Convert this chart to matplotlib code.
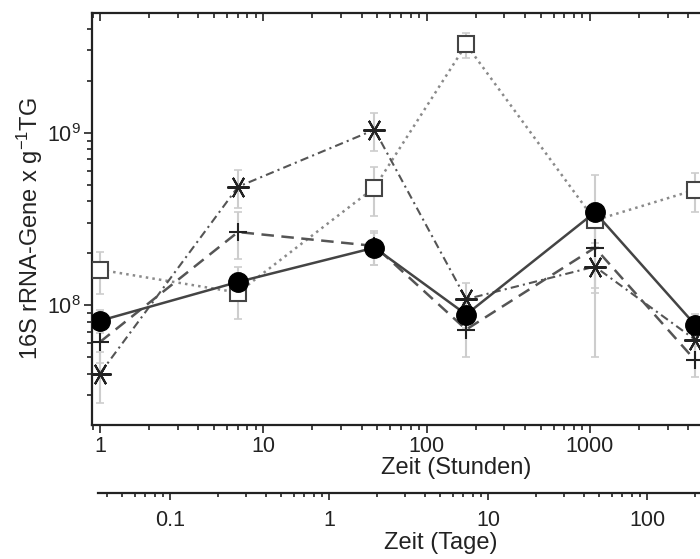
import numpy as np
import matplotlib
matplotlib.use('Agg')
import matplotlib.pyplot as plt
from matplotlib import ticker

plt.rcParams['font.family'] = ['Liberation Sans', 'DejaVu Sans']
plt.rcParams['mathtext.fontset'] = 'custom'
plt.rcParams['mathtext.rm'] = 'Liberation Sans'
plt.rcParams['mathtext.it'] = 'Liberation Sans:italic'
plt.rcParams['mathtext.bf'] = 'Liberation Sans:bold'
plt.rcParams['mathtext.default'] = 'regular'

# Messzeitpunkte (Stunden)
stunden = [1, 7, 48, 175, 1075, 4400]

# 16S rRNA-Gene pro g TG, vier Serien
kreis = [8.1e7, 1.36e8, 2.15e8, 8.8e7, 3.45e8, 7.7e7]
kreis_err = [1.2e7, 3.0e7, 4.5e7, 1.5e7, 2.2e8, 1.2e7]

quadrat = [1.6e8, 1.18e8, 4.8e8, 3.25e9, 3.1e8, 4.65e8]
quadrat_err = [4.4e7, 3.5e7, 1.5e8, 5.5e8, 8e7, 1.2e8]

stern = [4.0e7, 4.85e8, 1.04e9, 1.08e8, 1.67e8, 6.3e7]
stern_err = [1.3e7, 1.2e8, 2.6e8, 2.6e7, 5e7, 1.5e7]

plus = [6.1e7, 2.65e8, 2.2e8, 7.2e7, 2.15e8, 4.8e7]
plus_err = [1.5e7, 8e7, 5e7, 2.2e7, 1.65e8, 1.0e7]

W, H = 700, 559
def fx(px):
    return px / W
def fy(py):
    return 1 - py / H

txt = '#222222'
fig = plt.figure(figsize=(7, 5.59), dpi=100)

# main axes runs past the right edge (picture is cropped)
ax = fig.add_axes([fx(92), fy(425), fx(818) - fx(92), fy(13) - fy(425)])

for vals, err in [(quadrat, quadrat_err), (stern, stern_err),
                  (plus, plus_err), (kreis, kreis_err)]:
    ax.errorbar(stunden, vals, yerr=err, fmt='none', ecolor='#cdcdcd',
                elinewidth=1.5, capsize=3, capthick=1.2, zorder=1)

ax.plot(stunden, quadrat, ls=':', color='#8a8a8a', lw=1.8, marker='s', ms=11,
        mfc='white', mec='#444444', mew=1.5, zorder=3)
ax.plot(stunden, stern, color='#555555', lw=1.5, dashes=(4, 2, 1, 2),
        marker=(6, 2, 90), ms=16, mec='#222222', mew=1.5, zorder=4)
ax.plot(stunden, plus, color='#555555', lw=1.8, dashes=(5, 3), marker='+',
        ms=13, mec='#222222', mew=1.5, zorder=5)
ax.plot(stunden, kreis, color='#444444', lw=1.8, marker='o', ms=14,
        mfc='black', mec='black', zorder=6)


def label_bis(limit):
    # labels beyond the cropped right edge stay empty
    return ticker.FuncFormatter(lambda v, p: f'{v:g}' if v <= limit else '')


ax.set_xscale('log')
ax.set_yscale('log')
ax.set_xlim(0.893, 2.5e4)
ax.set_ylim(2.01e7, 4.95e9)
ax.xaxis.set_major_formatter(label_bis(2000))
ax.xaxis.set_minor_formatter(ticker.NullFormatter())
ax.yaxis.set_minor_formatter(ticker.NullFormatter())
ax.tick_params(which='both', direction='out', top=False, right=False,
               labelsize=15.5, colors=txt, width=1.2, pad=2)
ax.tick_params(which='major', length=6)
ax.tick_params(which='minor', length=3.5)
for s in ax.spines.values():
    s.set_linewidth(1.6)
    s.set_color(txt)

# top ticks point inward
axt = ax.twiny()
axt.set_xscale('log')
axt.set_xlim(ax.get_xlim())
axt.xaxis.set_minor_formatter(ticker.NullFormatter())
axt.tick_params(which='both', direction='in', top=True, bottom=False,
                labeltop=False, colors=txt, width=1.2)
axt.tick_params(which='major', length=6)
axt.tick_params(which='minor', length=3.5)
for s in axt.spines.values():
    s.set_visible(False)

# second x axis in days
ax2 = fig.add_axes([fx(98), fy(493), fx(818) - fx(98), 0.0001])
ax2.set_xscale('log')
ax2.set_xlim(0.0352, 1190)
for s in ['top', 'left', 'right']:
    ax2.spines[s].set_visible(False)
ax2.spines['bottom'].set_linewidth(1.6)
ax2.spines['bottom'].set_color(txt)
ax2.set_yticks([])
ax2.patch.set_visible(False)
ax2.xaxis.set_major_formatter(label_bis(200))
ax2.xaxis.set_minor_formatter(ticker.NullFormatter())
ax2.tick_params(axis='x', which='both', direction='out', labelsize=15.5,
                colors=txt, width=1.2, pad=7)
ax2.tick_params(which='major', length=5)
ax2.tick_params(which='minor', length=3)

fig.text(fx(30), fy(229), '16S rRNA-Gene x g$^{-1}$TG', rotation=90,
         ha='center', va='center', fontsize=17, color=txt)
fig.text(fx(456), fy(468), 'Zeit (Stunden)', ha='center', va='center',
         fontsize=17, color=txt)
fig.text(fx(441), fy(543), 'Zeit (Tage)', ha='center', va='center',
         fontsize=17, color=txt)

fig.savefig('out.png', dpi=100)
